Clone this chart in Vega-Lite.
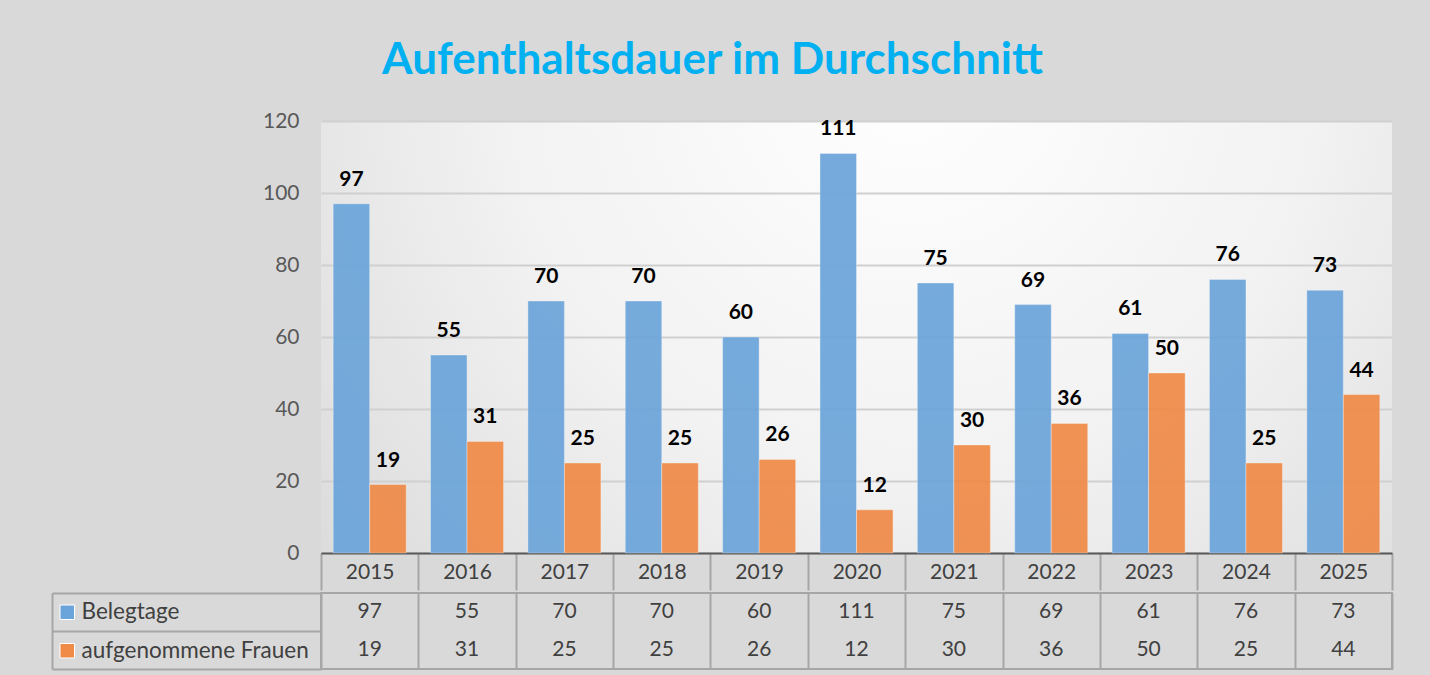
{
  "$schema": "https://vega.github.io/schema/vega-lite/v6.json",
  "background": "#d9d9d9",
  "padding": {"left": 50, "top": 39, "right": 40, "bottom": 6},
  "title": {
    "text": "Aufenthaltsdauer im Durchschnitt",
    "font": "Lato",
    "fontSize": 44,
    "fontWeight": "bold",
    "color": "#00b0f0",
    "anchor": "middle",
    "dx": -9,
    "offset": 27
  },
  "config": {
    "font": "Lato",
    "concat": {"spacing": 0}
  },
  "data": {
    "values": [
      {"year": "2015", "series": "Belegtage", "value": 97},
      {"year": "2016", "series": "Belegtage", "value": 55},
      {"year": "2017", "series": "Belegtage", "value": 70},
      {"year": "2018", "series": "Belegtage", "value": 70},
      {"year": "2019", "series": "Belegtage", "value": 60},
      {"year": "2020", "series": "Belegtage", "value": 111},
      {"year": "2021", "series": "Belegtage", "value": 75},
      {"year": "2022", "series": "Belegtage", "value": 69},
      {"year": "2023", "series": "Belegtage", "value": 61},
      {"year": "2024", "series": "Belegtage", "value": 76},
      {"year": "2025", "series": "Belegtage", "value": 73},
      {"year": "2015", "series": "aufgenommene Frauen", "value": 19},
      {"year": "2016", "series": "aufgenommene Frauen", "value": 31},
      {"year": "2017", "series": "aufgenommene Frauen", "value": 25},
      {"year": "2018", "series": "aufgenommene Frauen", "value": 25},
      {"year": "2019", "series": "aufgenommene Frauen", "value": 26},
      {"year": "2020", "series": "aufgenommene Frauen", "value": 12},
      {"year": "2021", "series": "aufgenommene Frauen", "value": 30},
      {"year": "2022", "series": "aufgenommene Frauen", "value": 36},
      {"year": "2023", "series": "aufgenommene Frauen", "value": 50},
      {"year": "2024", "series": "aufgenommene Frauen", "value": 25},
      {"year": "2025", "series": "aufgenommene Frauen", "value": 44}
    ]
  },
  "resolve": {"scale": {"color": "independent", "x": "independent", "y": "independent"}, "legend": {"color": "independent"}},
  "vconcat": [
    {
      "width": 1071,
      "height": 432,
      "view": {
        "stroke": null,
        "fill": {
          "gradient": "radial",
          "x1": 0.55, "y1": 0.25, "r1": 0,
          "x2": 0.55, "y2": 0.25, "r2": 0.85,
          "stops": [
            {"offset": 0, "color": "#ffffff"},
            {"offset": 0.45, "color": "#f2f2f2"},
            {"offset": 1, "color": "#d2d2d2"}
          ]
        }
      },
      "encoding": {
        "x": {
          "field": "year",
          "type": "nominal",
          "scale": {"paddingInner": 0, "paddingOuter": 0},
          "axis": {
            "title": null,
            "labelAngle": 0,
            "labelFontSize": 21,
            "labelColor": "#404040",
            "labelBaseline": "middle",
            "labelPadding": -18,
            "tickBand": "extent",
            "tickSize": 37,
            "tickColor": "#a6a6a6",
            "tickWidth": 2,
            "domainColor": "#595959",
            "domainWidth": 2
          }
        },
        "xOffset": {
          "field": "series",
          "type": "nominal",
          "sort": ["Belegtage", "aufgenommene Frauen"],
          "scale": {"paddingOuter": 0.333, "paddingInner": 0}
        },
        "y": {
          "field": "value",
          "type": "quantitative",
          "scale": {"domain": [0, 120], "nice": false},
          "axis": {
            "title": null,
            "values": [0, 20, 40, 60, 80, 100, 120],
            "domain": false,
            "ticks": false,
            "grid": true,
            "gridColor": "#d0d0d0",
            "gridWidth": 2,
            "labelFontSize": 21,
            "labelColor": "#595959",
            "labelPadding": 22,
            "minExtent": 269,
            "maxExtent": 269
          }
        }
      },
      "layer": [
        {
          "mark": {"type": "bar", "opacity": 0.92, "stroke": "#ffffff", "strokeOpacity": 0.35, "strokeWidth": 1},
          "encoding": {
            "color": {
              "field": "series",
              "type": "nominal",
              "scale": {"domain": ["Belegtage", "aufgenommene Frauen"], "range": ["#6ba4da", "#ef8a47"]},
              "legend": null
            }
          }
        },
        {
          "mark": {"type": "text", "fontWeight": "bold", "fontSize": 21, "color": "#000000", "baseline": "alphabetic", "dy": -18},
          "encoding": {"text": {"field": "value", "type": "quantitative"}}
        }
      ]
    },
    {
      "width": 1071,
      "height": 76,
      "view": {"stroke": "#a6a6a6", "strokeWidth": 2, "fill": null},
      "encoding": {
        "x": {
          "field": "year",
          "type": "nominal",
          "scale": {"paddingInner": 0, "paddingOuter": 0},
          "axis": {
            "title": null,
            "orient": "top",
            "labels": false,
            "ticks": false,
            "domain": false,
            "grid": true,
            "tickBand": "extent",
            "gridColor": "#a6a6a6",
            "gridWidth": 2,
            "minExtent": 0,
            "maxExtent": 0
          }
        },
        "y": {
          "field": "series",
          "type": "nominal",
          "sort": ["Belegtage", "aufgenommene Frauen"],
          "scale": {"paddingInner": 0, "paddingOuter": 0},
          "axis": {
            "title": null,
            "labels": false,
            "offset": 269,
            "tickSize": -269,
            "tickBand": "extent",
            "tickColor": "#a6a6a6",
            "tickWidth": 2,
            "domainColor": "#a6a6a6",
            "domainWidth": 2,
            "minExtent": 0,
            "maxExtent": 0
          }
        }
      },
      "layer": [
        {
          "mark": {"type": "text", "fontSize": 21, "color": "#404040", "baseline": "middle"},
          "encoding": {"text": {"field": "value", "type": "quantitative"}}
        },
        {
          "mark": {"type": "square", "opacity": 0, "size": 10},
          "encoding": {
            "color": {
              "field": "series",
              "type": "nominal",
              "scale": {"domain": ["Belegtage", "aufgenommene Frauen"], "range": ["#6ba4da", "#ef8a47"]},
              "legend": {
                "title": null,
                "orient": "none",
                "legendX": -265,
                "legendY": 8,
                "padding": 0,
                "symbolType": "square",
                "symbolSize": 210,
                "symbolOpacity": 1,
                "symbolStrokeColor": "#ffffff",
                "symbolStrokeWidth": 1,
                "labelFontSize": 22.5,
                "labelColor": "#404040",
                "labelOffset": 3,
                "labelLimit": 0,
                "rowPadding": 15.5
              }
            }
          }
        }
      ]
    }
  ]
}
